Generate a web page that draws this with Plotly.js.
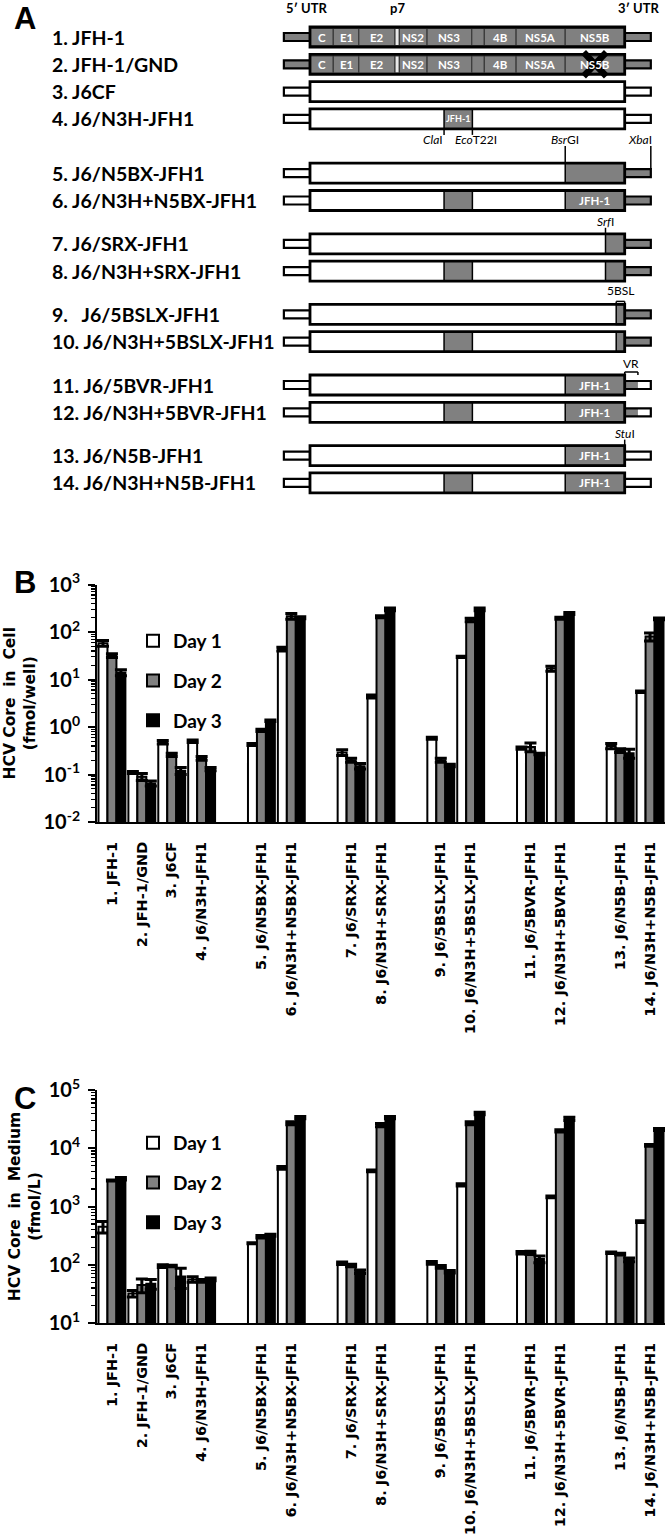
<!DOCTYPE html>
<html><head><meta charset="utf-8">
<script src="https://cdn.plot.ly/plotly-3.0.1.min.js"></script>
<style>html,body{margin:0;padding:0;background:#fff}#chart{width:666px;height:1538px}</style>
</head><body><div id="chart"></div>
<script>
// ================= DATA =================
const constructs = ['1. JFH-1','2. JFH-1/GND','3. J6CF','4. J6/N3H-JFH1','5. J6/N5BX-JFH1','6. J6/N3H+N5BX-JFH1',
  '7. J6/SRX-JFH1','8. J6/N3H+SRX-JFH1','9. J6/5BSLX-JFH1','10. J6/N3H+5BSLX-JFH1','11. J6/5BVR-JFH1',
  '12. J6/N3H+5BVR-JFH1','13. J6/N5B-JFH1','14. J6/N3H+N5B-JFH1'];
const schematicNames = ['1. JFH-1','2. JFH-1/GND','3. J6CF','4. J6/N3H-JFH1','5. J6/N5BX-JFH1','6. J6/N3H+N5BX-JFH1',
  '7. J6/SRX-JFH1','8. J6/N3H+SRX-JFH1','9.\u00a0\u00a0 J6/5BSLX-JFH1','10. J6/N3H+5BSLX-JFH1','11. J6/5BVR-JFH1',
  '12. J6/N3H+5BVR-JFH1','13. J6/N5B-JFH1','14. J6/N3H+N5B-JFH1'];
// which block (control set / construct pair) each construct belongs to
const blockOf = [0,0,0,0,1,1,2,2,3,3,4,4,5,5];
const dayNames = ['Day 1','Day 2','Day 3'];

// Panel B: HCV core in cells (fmol/well)
const cellDay1 = [58, 0.11, 0.48, 0.50, 0.43, 44, 0.29, 4.4, 0.58, 30, 0.36, 17, 0.40, 5.5];
const cellErr1 = [8, 0.005, 0.04, 0.03, 0.02, 4, 0.04, 0.3, 0.03, 1, 0.02, 2, 0.05, 0.2];
const cellDay2 = [32, 0.09, 0.26, 0.22, 0.85, 215, 0.20, 210, 0.20, 180, 0.38, 195, 0.32, 80];
const cellErr2 = [3, 0.015, 0.02, 0.02, 0.05, 30, 0.02, 10, 0.02, 15, 0.08, 10, 0.03, 15];
const cellDay3 = [14, 0.065, 0.12, 0.13, 1.35, 200, 0.15, 300, 0.155, 300, 0.27, 245, 0.28, 190];
const cellErr3 = [2, 0.008, 0.02, 0.01, 0.05, 10, 0.02, 20, 0.01, 20, 0.01, 12, 0.06, 8];

// Panel C: HCV core in medium (fmol/L)
const medDay1 = [450, 32, 95, 56, 234, 4600, 106, 4100, 108, 2350, 161, 1470, 161, 550];
const medErr1 = [100, 4, 5, 6, 5, 250, 5, 150, 6, 100, 8, 50, 5, 20];
const medDay2 = [2800, 45, 95, 53, 303, 26900, 97, 25000, 92, 26900, 160, 19900, 152, 11200];
const medErr2 = [50, 12, 3, 3, 15, 1500, 5, 1500, 5, 1500, 10, 800, 5, 400];
const medDay3 = [3000, 47, 63, 56, 322, 33500, 76, 33500, 76, 39500, 125, 32000, 122, 21000];
const medErr3 = [150, 9, 24, 3, 12, 1500, 5, 1500, 4, 2000, 17, 2000, 9, 800];

const cellTickVals = [0.01, 0.1, 1, 10, 100, 1000];
const cellTickText = ['10<sup>-2</sup>','10<sup>-1</sup>','10<sup>0</sup>','10<sup>1</sup>','10<sup>2</sup>','10<sup>3</sup>'];
const medTickVals = [10, 100, 1000, 10000, 100000];
const medTickText = ['10<sup>1</sup>','10<sup>2</sup>','10<sup>3</sup>','10<sup>4</sup>','10<sup>5</sup>'];

// Panel A: genome map (fractions of the polyprotein ORF)
const geneNames  = ['C','E1','E2','p7','NS2','NS3','NS4A','4B','NS5A','NS5B'];
const geneLabels = ['C','E1','E2','','NS2','NS3','','4B','NS5A','NS5B'];
const geneStart  = [0, 0.074, 0.155, 0.270, 0.284, 0.372, 0.514, 0.554, 0.655, 0.811];
const geneEnd    = [0.074, 0.155, 0.270, 0.284, 0.372, 0.514, 0.554, 0.655, 0.811, 1.0];
const siteNames  = ['ClaI','EcoT22I','BsrGI','SrfI','5BSL','StuI','XbaI'];
const siteText   = ['<i>Cla</i>I','<i>Eco</i>T22I','<i>Bsr</i>GI','<i>Srf</i>I','5BSL','<i>Stu</i>I','<i>Xba</i>I'];
const sitePos    = [0.426, 0.516, 0.811, 0.939, 0.973, 1.0, 1.083];
const backbone   = ['JFH1','JFH1','J6','J6','J6','J6','J6','J6','J6','J6','J6','J6','J6','J6'];
const n3hSwap    = [0,0,0,1,0,1,0,1,0,1,0,1,0,1];
const n3hLabel   = [0,0,0,1,0,0,0,0,0,0,0,0,0,0];
const cSwapFrom  = [null,null,null,null,'BsrGI','BsrGI','SrfI','SrfI','5BSL','5BSL','BsrGI','BsrGI','BsrGI','BsrGI'];
const cSwapLabel = [0,0,0,0,0,1,0,0,0,0,1,1,1,1];
const utr3       = ['JFH1','JFH1','J6','J6','JFH1','JFH1','JFH1','JFH1','JFH1','JFH1','VR','VR','J6','J6'];
const mutantRow  = [0,1,0,0,0,0,0,0,0,0,0,0,0,0];

// ================= LAYOUT HELPERS =================
const W = 666, H = 1538;
const py = p => 1 - p / H;
const site = n => sitePos[siteNames.indexOf(n)];
const GREY = '#808080';
const BOLD = 700;

const slots = constructs.map((_, i) => i + blockOf[i]);

// schematic geometry (yaxis3 is in page pixels; xaxis3 in ORF fractions)
const ROW0 = 37, PITCH = 27.3, FIRSTGAP = 27, BLOCKGAP = 16;
const rowsY = constructs.map((_, i) => { const b = blockOf[i]; return ROW0 + i * PITCH + (b > 0 ? FIRSTGAP + (b - 1) * BLOCKGAP : 0); });
const BH = 10, SH = 4, STUB = 0.083, VRLEN = 0.042;
const ORF_LEFT_PX = 310, ORF_PX = 314.7, A_DOM_LEFT = 250;
const aRange = [(A_DOM_LEFT - ORF_LEFT_PX) / ORF_PX, (W - ORF_LEFT_PX) / ORF_PX];

const shapes = [];
const ann = [];
function rect(x0, x1, y0, y1, fill, lc, lw) {
  shapes.push({type:'rect', xref:'x3', yref:'y3', x0, x1, y0, y1, fillcolor:fill, line:{color:lc, width:lw}, layer:'above'});
}
function seg(x0, y0, x1, y1, lw) {
  shapes.push({type:'line', xref:'x3', yref:'y3', x0, y0, x1, y1, line:{color:'black', width:lw}, layer:'above'});
}
function txt(x, y, text, size, opts) {
  ann.push(Object.assign({xref:'x3', yref:'y3', x, y, text, showarrow:false,
    font:{family:'Lato', size, color:'black', weight:BOLD}}, opts || {}));
}

rowsY.forEach((y, i) => {
  const jfh = backbone[i] === 'JFH1';
  // 5' UTR stub
  rect(-STUB, 0, y - SH, y + SH, jfh ? GREY : 'white', 'black', 2.2);
  // 3' UTR stub
  if (utr3[i] === 'VR') {
    rect(1, 1 + STUB, y - SH, y + SH, 'white', 'black', 0);
    rect(1, 1 + VRLEN, y - SH, y + SH, GREY, 'black', 0);
    rect(1, 1 + STUB, y - SH, y + SH, 'rgba(0,0,0,0)', 'black', 2.2);
  } else {
    rect(1, 1 + STUB, y - SH, y + SH, utr3[i] === 'JFH1' ? GREY : 'white', 'black', 2.2);
  }
  if (jfh) {
    geneNames.forEach((g, k) => {
      rect(geneStart[k], geneEnd[k], y - BH + 1.5, y + BH - 1.5, g === 'p7' ? '#e8e8e8' : GREY, '#3a3a3a', 1.2);
      if (geneLabels[k]) txt((geneStart[k] + geneEnd[k]) / 2, y, geneLabels[k], 11.5, {font:{family:'Lato', size:11.5, color:'white', weight:BOLD}});
    });
    rect(0, 1, y - BH, y + BH, 'rgba(0,0,0,0)', 'black', 2.8);
    if (mutantRow[i]) {
      const cx = (geneStart[9] + geneEnd[9]) / 2;
      seg(cx - 0.036, y - 12, cx + 0.036, y + 12, 6.5);
      seg(cx - 0.036, y + 12, cx + 0.036, y - 12, 6.5);
    }
  } else {
    rect(0, 1, y - BH, y + BH, 'white', 'black', 0);
    if (n3hSwap[i]) {
      rect(site('ClaI'), site('EcoT22I'), y - BH, y + BH, GREY, 'black', 1.5);
      if (n3hLabel[i]) txt((site('ClaI') + site('EcoT22I')) / 2, y, 'JFH-1', 9, {font:{family:'Lato', size:9, color:'white', weight:BOLD}});
    }
    if (cSwapFrom[i]) {
      rect(site(cSwapFrom[i]), 1, y - BH, y + BH, GREY, 'black', 1.5);
      if (cSwapLabel[i]) txt((site(cSwapFrom[i]) + 1) / 2, y, 'JFH-1', 11.5, {font:{family:'Lato', size:11.5, color:'white', weight:BOLD}});
    }
    rect(0, 1, y - BH, y + BH, 'rgba(0,0,0,0)', 'black', 2.8);
  }
  // construct name
  ann.push({xref:'paper', yref:'y3', x: 50 / W, y, xanchor:'left', text: schematicNames[i], showarrow:false,
    font:{family:'Lato', size:19.5, color:'black', weight:BOLD}});
});

// header labels
txt(-STUB, 8, '5\u2032 UTR', 13, {xanchor:'left'});
txt((geneStart[3] + geneEnd[3]) / 2, 8, 'p7', 13);
txt(1 + STUB + 0.035, 8, '3\u2032 UTR', 13, {xanchor:'right'});

// restriction sites / regions
const siteFont = {family:'Lato', size:12, color:'black', weight:400};
const lab1 = rowsY[3] + BH + 11;
seg(site('ClaI'), rowsY[3] + BH, site('ClaI'), lab1 - 5, 1.5);
txt(site('ClaI') + 0.004, lab1, siteText[0], 12, {font:siteFont, xanchor:'right'});
seg(site('EcoT22I'), rowsY[3] + BH, site('EcoT22I'), lab1 - 5, 1.5);
txt(site('EcoT22I') + 0.012, lab1, siteText[1], 12, {font:siteFont});
seg(site('BsrGI'), rowsY[4] - BH, site('BsrGI'), lab1 + 6, 1.5);
txt(site('BsrGI'), lab1, siteText[2], 12, {font:siteFont});
seg(site('XbaI'), rowsY[4] - SH, site('XbaI'), lab1 + 6, 1.5);
txt(site('XbaI') + 0.01, lab1, siteText[6], 12, {font:siteFont, xanchor:'right'});
const labS = rowsY[6] - BH - 12;
seg(site('SrfI'), rowsY[6] - BH, site('SrfI'), labS + 6, 1.5);
txt(site('SrfI'), labS, siteText[3], 12, {font:siteFont});
const lab5 = rowsY[8] - BH - 14;
seg(site('5BSL'), lab5 + 11, 1, lab5 + 11, 1.5);
seg(site('5BSL'), lab5 + 11, site('5BSL'), lab5 + 14, 1.5);
seg(1, lab5 + 11, 1, lab5 + 14, 1.5);
txt((site('5BSL') + 1) / 2, lab5, '5BSL', 12, {font:siteFont});
const labV = rowsY[10] - BH - 12;
seg(1, labV + 9, 1 + VRLEN, labV + 9, 1.5);
seg(1, labV + 9, 1, labV + 12, 1.5);
seg(1 + VRLEN, labV + 9, 1 + VRLEN, labV + 12, 1.5);
txt(1 + VRLEN / 2, labV, 'VR', 12, {font:siteFont});
const labU = rowsY[12] - BH - 12;
seg(site('StuI'), rowsY[12] - BH, site('StuI'), labU + 6, 1.5);
txt(site('StuI'), labU, siteText[5], 12, {font:siteFont});

// panel letters
[['A', 18], ['B', 583], ['C', 1098]].forEach(([t, p]) => ann.push({xref:'paper', yref:'paper', x: 12 / W, y: py(p), xanchor:'left', yanchor:'middle',
  text: t, showarrow:false, font:{family:'Liberation Sans', size:31, color:'black', weight:BOLD}}));

// ================= TRACES =================
const fills = ['white', GREY, 'black'];
function bars(vals, errs, xa, ya, lg) {
  return vals.map((v, k) => ({
    type:'bar', name: dayNames[k], x: slots, y: v, xaxis: xa, yaxis: ya, legend: lg, legendgroup: lg + k,
    marker:{color: fills[k], line:{color:'black', width:2}},
    error_y:{type:'data', array: errs[k], visible:true, color:'black', thickness:3, width:6},
    hoverinfo:'skip'
  }));
}
const traces = [
  ...bars([cellDay1, cellDay2, cellDay3], [cellErr1, cellErr2, cellErr3], 'x', 'y', 'legend'),
  ...bars([medDay1, medDay2, medDay3], [medErr1, medErr2, medErr3], 'x2', 'y2', 'legend2')
];

const xBase = {
  domain:[97 / W, 665 / W], range:[-0.5, 18.5], tickmode:'array', tickvals: slots, ticktext: constructs,
  tickangle:-90, ticks:'', showline:true, linewidth:2, linecolor:'black', showgrid:false, zeroline:false,
  tickfont:{family:'DejaVu Sans', size:14.5, weight:BOLD, color:'black'}, ticklabelstandoff:12
};
const yBase = {
  type:'log', tickmode:'array', ticks:'outside', ticklen:7, tickwidth:2, tickcolor:'black',
  showline:true, linewidth:2, linecolor:'black', showgrid:false, zeroline:false,
  tickfont:{family:'Lato', size:20, weight:BOLD, color:'black'}, ticklabelstandoff:4,
  minor:{ticks:'outside', ticklen:4, tickwidth:1.2, tickcolor:'black', dtick:'D1', showgrid:false}
};
const titleFont = {family:'DejaVu Sans', size:15.5, weight:BOLD, color:'black'};
const legBase = {xanchor:'left', yanchor:'top', bgcolor:'rgba(0,0,0,0)', tracegroupgap:12, traceorder:'grouped',
  font:{family:'Lato', size:19, weight:BOLD, color:'black'}};

const layout = {
  width: W, height: H, margin:{l:0, r:0, t:0, b:0}, paper_bgcolor:'white', plot_bgcolor:'white',
  barmode:'group', bargap:0.1, bargroupgap:0, showlegend:true,
  xaxis: Object.assign({}, xBase, {anchor:'y'}),
  yaxis: Object.assign({}, yBase, {domain:[py(822), py(584.5)], range:[-2, 3], tickvals: cellTickVals, ticktext: cellTickText, anchor:'x',
    title:{text:'HCV Core\u00a0 in\u00a0 Cell<br>(fmol/well)', font: titleFont, standoff: 4}}),
  xaxis2: Object.assign({}, xBase, {anchor:'y2'}),
  yaxis2: Object.assign({}, yBase, {domain:[py(1323), py(1090)], range:[1, 5], tickvals: medTickVals, ticktext: medTickText, anchor:'x2',
    title:{text:'HCV Core\u00a0 in\u00a0 Medium<br>(fmol/L)', font: titleFont, standoff: 4}}),
  xaxis3:{domain:[A_DOM_LEFT / W, 1], range: aRange, anchor:'y3', visible:false, fixedrange:true},
  yaxis3:{domain:[py(500), 1], range:[500, 0], anchor:'x3', visible:false, fixedrange:true},
  legend: Object.assign({}, legBase, {x: 133 / W, y: py(622)}),
  legend2: Object.assign({}, legBase, {x: 133 / W, y: py(1124)}),
  shapes: shapes, annotations: ann
};

Plotly.newPlot('chart', traces, layout, {displayModeBar:false, staticPlot:true});
</script>
</body></html>
